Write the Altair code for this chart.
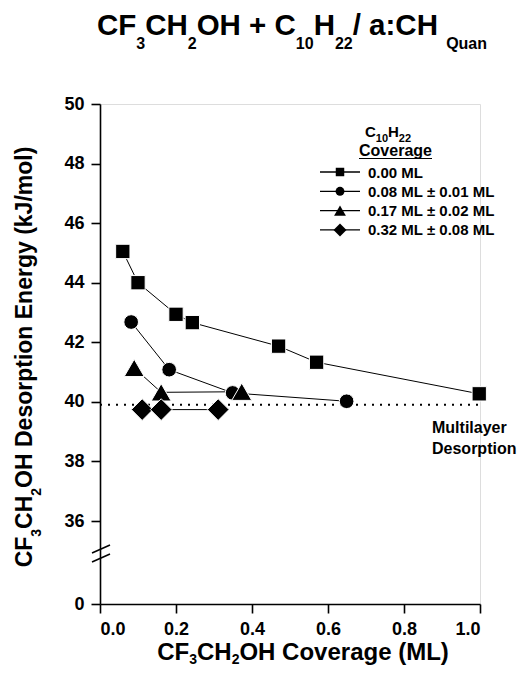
import altair as alt
import pandas as pd

# ---------------- data ----------------
series_labels = ["0.00 ML", "0.08 ML ± 0.01 ML", "0.17 ML ± 0.02 ML", "0.32 ML ± 0.08 ML"]
series_shapes = ["square", "circle", "triangle-up", "diamond"]
series_sizes = [205, 215, 400, 470]

x_s0 = [0.06, 0.10, 0.20, 0.243, 0.47, 0.57, 0.998]
y_s0 = [45.05, 44.0, 42.94, 42.66, 41.87, 41.33, 40.27]
x_s1 = [0.082, 0.182, 0.349, 0.649]
y_s1 = [42.68, 41.08, 40.30, 40.02]
x_s2 = [0.09, 0.161, 0.373]
y_s2 = [41.14, 40.32, 40.34]
x_s3 = [0.111, 0.161, 0.311]
y_s3 = [39.74, 39.74, 39.74]

multilayer_energy = 39.9
x_ticks = [0.0, 0.2, 0.4, 0.6, 0.8, 1.0]
y_ticks = [0, 36, 38, 40, 42, 44, 46, 48, 50]

xs = [x_s0, x_s1, x_s2, x_s3]
ys = [y_s0, y_s1, y_s2, y_s3]
rows = []
for i, (xx, yy) in enumerate(zip(xs, ys)):
    for a, b in zip(xx, yy):
        rows.append({"s": series_labels[i], "x": a, "y": b, "order": i,
                     "shape": series_shapes[i], "sz": series_sizes[i]})
df = pd.DataFrame(rows)

FONT = "Liberation Sans"
W = {" ": 278, "(": 333, ")": 333, "+": 584, "/": 278, ":": 333, ".": 278, "±": 584,
     "0": 556, "1": 556, "2": 556, "3": 556, "4": 556, "5": 556, "6": 556, "7": 556, "8": 556, "9": 556,
     "A": 722, "C": 722, "D": 722, "E": 667, "F": 611, "H": 722, "J": 556, "K": 722, "L": 611,
     "M": 833, "O": 778, "Q": 778, "a": 556, "e": 556, "g": 611, "i": 278, "k": 556, "l": 278,
     "m": 889, "n": 611, "o": 611, "p": 611, "r": 389, "s": 556, "t": 333, "u": 611, "v": 556,
     "y": 556}


def tw(s, fs):
    return sum(W.get(c, 556) for c in s) * fs / 1000.0


def rich(segs, center, base, drop, main_fs, sub_fs, vertical=False):
    total = sum(tw(t, sub_fs if sub else main_fs) for t, sub in segs)
    out = []
    if vertical:
        pos = center + total / 2
    else:
        pos = center - total / 2
    for t, sub in segs:
        fs = sub_fs if sub else main_fs
        if vertical:
            out.append({"t": t, "px": base + (drop if sub else 0), "py": pos, "fs": fs, "ang": 270})
            pos -= tw(t, fs)
        else:
            out.append({"t": t, "px": pos, "py": base + (drop if sub else 0), "fs": fs, "ang": 0})
            pos += tw(t, fs)
    return out


texts = []
texts += rich([("CF", 0), ("3", 1), ("CH", 0), ("2", 1), ("OH + C", 0), ("10", 1), ("H", 0),
               ("22", 1), (" / a:CH", 0), ("Quan", 1)], 192, -69, 14, 29.5, 16)
texts += rich([("CF", 0), ("3", 1), ("CH", 0), ("2", 1), ("OH Coverage (ML)", 0)],
              203, 556, 4, 24, 14)
texts += rich([("CF", 0), ("3", 1), ("CH", 0), ("2", 1), ("OH Desorption Energy (kJ/mol)", 0)],
              253, -68, 9, 23, 14, vertical=True)
texts += rich([("C", 0), ("10", 1), ("H", 0), ("22", 1)], 288, 33, 4.5, 15, 11)
texts += rich([("Coverage", 0)], 295.5, 52, 0, 16, 16)
texts.append({"t": "Multilayer", "px": 332, "py": 328.5, "fs": 16, "ang": 0})
texts.append({"t": "Desorption", "px": 332, "py": 350, "fs": 16, "ang": 0})

leg_y = [68, 87.3, 106.6, 125.9]
for lab, yy in zip(series_labels, leg_y):
    texts.append({"t": lab, "px": 268, "py": yy + 5.5, "fs": 15, "ang": 0})
tdf = pd.DataFrame(texts)

segs = [{"x1": 220, "x2": 260, "y1": yy, "y2": yy, "sw": 1.3} for yy in leg_y]
segs.append({"x1": 259, "x2": 332, "y1": 54.5, "y2": 54.5, "sw": 1.2})
segs.append({"x1": -8, "x2": 10, "y1": 449, "y2": 441, "sw": 1.5})
segs.append({"x1": -8, "x2": 10, "y1": 458, "y2": 450, "sw": 1.5})
sdf = pd.DataFrame(segs)

ldf = pd.DataFrame({"px": [240] * 4, "py": leg_y, "shape": series_shapes,
                    "sz": [72, 80, 140, 170]})

# ---------------- chart ----------------
xscale = alt.Scale(domain=[0, 1], nice=False, zero=False)
yscale = alt.Scale(domain=[0, 36, 50], range=[500, 417, 0], nice=False, zero=False)

xaxis = alt.Axis(values=x_ticks, format=".1f", title=None, grid=False, tickSize=9,
                 labelPadding=7, labelFontSize=18, labelFont=FONT, labelFontWeight="bold",
                 labelColor="black", domainColor="black", tickColor="black",
                 domainWidth=1.6, tickWidth=1.6)
yaxis = alt.Axis(values=y_ticks, format="d", title=None, grid=False, tickSize=9,
                 labelPadding=7, labelFontSize=18, labelFont=FONT, labelFontWeight="bold",
                 labelColor="black", domainColor="black", tickColor="black",
                 domainWidth=1.6, tickWidth=1.6)

base = alt.Chart(df)

dotted = alt.Chart(pd.DataFrame({"x": [0.0], "x2": [1.0], "y": [multilayer_energy]})).mark_rule(
    color="black", strokeWidth=2, strokeDash=[2, 6]
).encode(
    x=alt.X("x:Q", scale=xscale, axis=xaxis),
    x2="x2:Q",
    y=alt.Y("y:Q", scale=yscale, axis=yaxis),
)

lines = base.mark_line(color="black", strokeWidth=1).encode(
    x=alt.X("x:Q", scale=xscale, axis=xaxis),
    y=alt.Y("y:Q", scale=yscale, axis=yaxis),
    detail="s:N",
    order="x:Q",
)

points = base.mark_point(filled=True, fill="black", stroke="white", strokeWidth=1.0, opacity=1).encode(
    x=alt.X("x:Q", scale=xscale, axis=xaxis),
    y=alt.Y("y:Q", scale=yscale, axis=yaxis),
    shape=alt.Shape("shape:N", scale=None),
    size=alt.Size("sz:Q", scale=None),
    order="order:Q",
)

rules = alt.Chart(sdf).mark_rule(color="black").encode(
    x=alt.X("x1:Q", scale=None),
    x2="x2:Q",
    y=alt.Y("y1:Q", scale=None),
    y2="y2:Q",
    strokeWidth=alt.StrokeWidth("sw:Q", scale=None),
)

leg_pts = alt.Chart(ldf).mark_point(filled=True, fill="black", opacity=1).encode(
    x=alt.X("px:Q", scale=None),
    y=alt.Y("py:Q", scale=None),
    shape=alt.Shape("shape:N", scale=None),
    size=alt.Size("sz:Q", scale=None),
)

labels = alt.Chart(tdf).mark_text(align="left", baseline="alphabetic", font=FONT,
                                  fontWeight="bold", color="black").encode(
    x=alt.X("px:Q", scale=None),
    y=alt.Y("py:Q", scale=None),
    text="t:N",
    size=alt.Size("fs:Q", scale=None),
    angle=alt.Angle("ang:Q", scale=None),
)

chart = alt.layer(dotted, lines, points, rules, leg_pts, labels).properties(
    width=380, height=500,
    autosize=alt.AutoSizeParams(type="none"),
    padding={"left": 92, "top": 96, "right": 37, "bottom": 66},
).configure_view(stroke=None).configure(background="white")

chart.save("out.html", embed_options={"renderer": "svg", "actions": False})
